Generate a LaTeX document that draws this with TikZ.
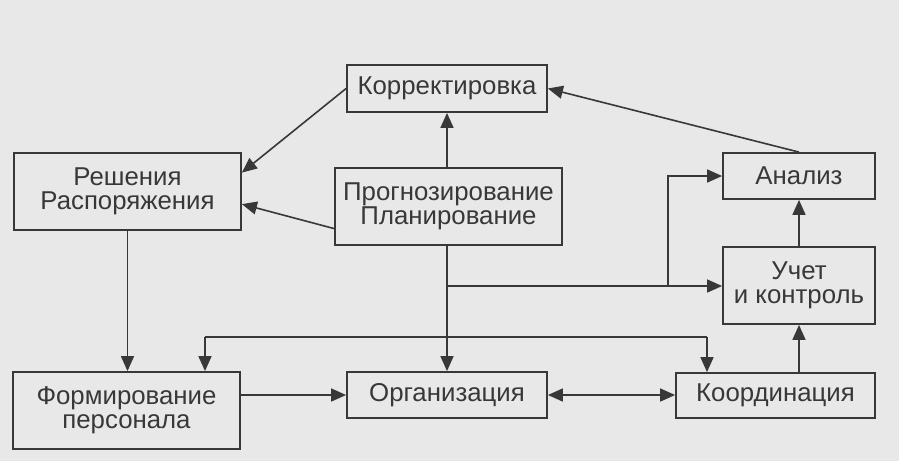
\documentclass[tikz,border=0pt]{standalone}
\usepackage{fontspec}
\setmainfont{Liberation Sans}
\usepackage{tikz}
\usetikzlibrary{arrows.meta,positioning,calc}
\definecolor{pagebg}{HTML}{E8E8E8}
\definecolor{ink}{HTML}{383838}
\begin{document}
\begin{tikzpicture}[x=0.5pt,y=-0.5pt,
  >={Triangle[length=7.5pt,width=6.5pt]},
  blok/.style={draw=ink,fill=pagebg,line width=0.9pt,inner sep=0pt,align=center,
    text=ink,font=\fontsize{12.9pt}{12pt}\selectfont},
  svyaz/.style={draw=ink,line width=0.8pt}]
\fill[pagebg] (0,0) rectangle (899,461);
\useasboundingbox (0,0) rectangle (899,461);

\node[blok,minimum width=100pt,minimum height=23.5pt] (korr) at (447,88.5) {Корректировка};
\node[blok,minimum width=113.5pt,minimum height=38.5pt] (resh) at (127.5,191.5) {Решения\\Распоряжения};
\node[blok,minimum width=113.5pt,minimum height=38.5pt] (progn) at (448.5,206.5) {Прогнозирование\\Планирование};
\node[blok,minimum width=76pt,minimum height=23pt] (analiz) at (799,176) {Анализ};
\node[blok,minimum width=76pt,minimum height=38.5pt] (uchet) at (799,285.5) {Учет\\и контроль};
\node[blok,minimum width=99.5pt,minimum height=22.5pt] (koord) at (775.5,395.5) {Координация};
\node[blok,minimum width=100pt,minimum height=23pt] (org) at (447,395) {Организация};
\node[blok,minimum width=113.5pt,minimum height=38.5pt] (form) at (126.5,410.5) {Формирование\\персонала};

\coordinate (j1) at (447,286);
\coordinate (j2) at (668,286);
\coordinate (fp) at (205,337);
\coordinate (kp) at (707,337);

\draw[svyaz,->] (korr.west) -- ($(resh.north east)!0.26!(resh.south east)$);
\draw[svyaz,->] ($(progn.north west)!0.78!(progn.south west)$) -- ($(resh.north east)!0.66!(resh.south east)$);
\draw[svyaz,->] (progn.north -| korr.south) -- (korr.south);
\draw[svyaz,->] (analiz.north) -- (korr.east);
\draw[svyaz,->] (uchet.north) -- (analiz.south);
\draw[svyaz,->] (uchet.south |- koord.north) -- (uchet.south);
\draw[svyaz,->] (progn.south -| org.north) -- (org.north);
\draw[svyaz,->] (j1) -- (uchet.west |- j1);
\draw[svyaz,->] (j2) |- (analiz.west);
\draw[svyaz] (fp) -- (kp);
\draw[svyaz,->] (fp) -- (fp |- form.north);
\draw[svyaz,->] (kp) -- (kp |- koord.north);
\draw[svyaz,->] (resh.south) -- (resh.south |- form.north);
\draw[svyaz,->] (form.east |- org.west) -- (org.west);
\draw[svyaz,<->] (org.east) -- (koord.west |- org.east);
\end{tikzpicture}
\end{document}
